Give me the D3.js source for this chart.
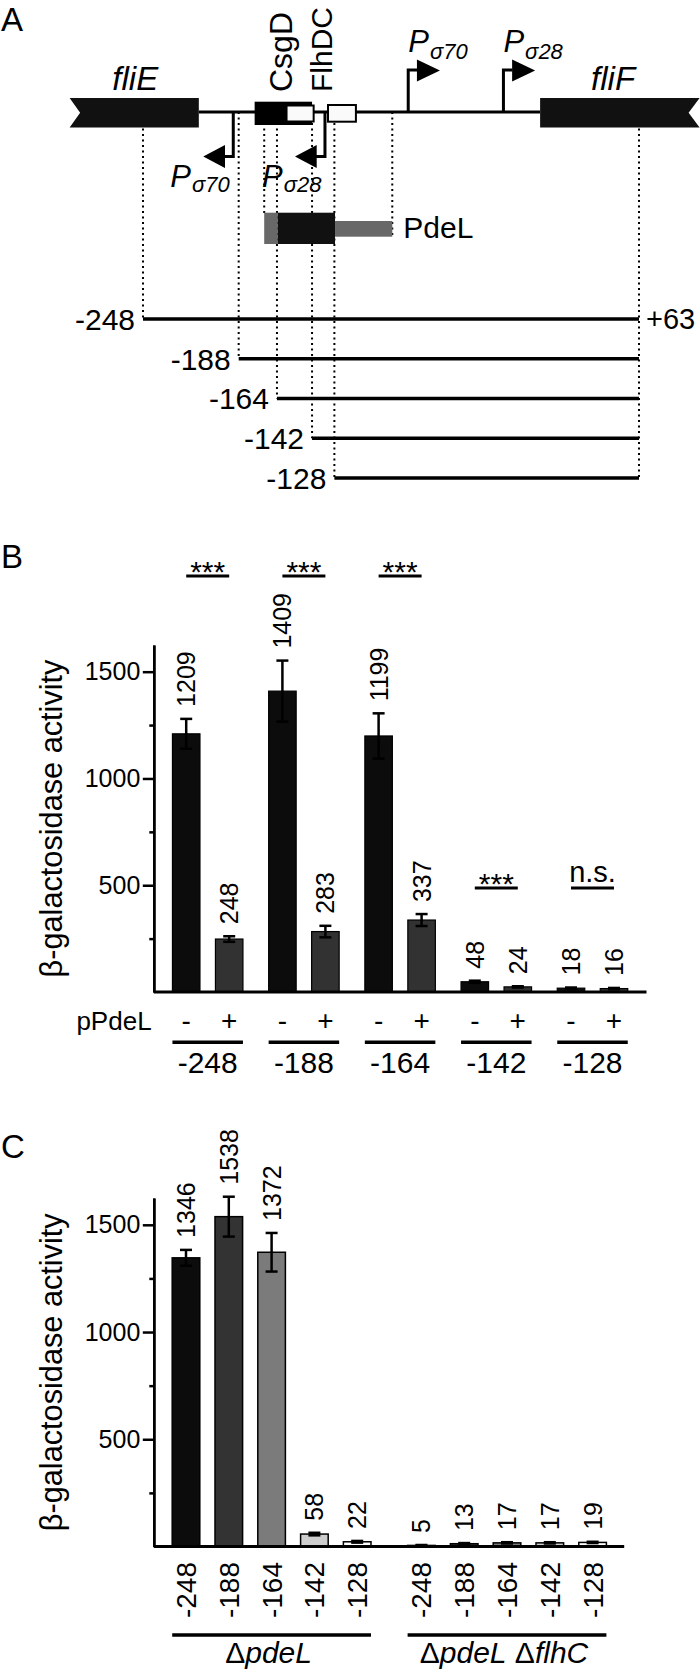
<!DOCTYPE html>
<html><head><meta charset="utf-8">
<script src="https://cdn.jsdelivr.net/npm/d3@7"></script>
<style>
body{margin:0;background:#fff;}
svg{display:block;font-family:"Liberation Sans", Arial, Helvetica, sans-serif;}
</style></head><body>
<svg id="fig" width="700" height="1675"></svg>
<script>
// ---------------- DATA ----------------
// Panel A: promoter map, positions in bp relative to the fliF start
const constructStarts = [-248, -188, -164, -142, -128];
const constructEnd = 63;
const geneFliE = [-294, -213];
const geneFliF = [1, 101];
const csgDSite = [-178, -142];
const csgDOverlap = [-158, -141];
const flhDCSite = [-132, -114.5];
const pdeLLeft = [-172, -163.5];
const pdeLCore = [-163.5, -127.6];
const pdeLRight = [-127.6, -91.7];
const promotersRev = [{pos: -191.4, sigma: "70"}, {pos: -133.9, sigma: "28"}];
const promotersFwd = [{pos: -81.7, sigma: "70"}, {pos: -22, sigma: "28"}];

// Panel B
const constructsB = ["-248", "-188", "-164", "-142", "-128"];
const treatments = ["-", "+"];
const valuesMinus = [1209, 1409, 1199, 48, 18];
const valuesPlus = [248, 283, 337, 24, 16];
const errMinus = [70, 143, 106, 5, 3];
const errPlus = [13, 27, 28, 3, 3];
const sigLabels = ["***", "***", "***", "***", "n.s."];
const sigHeights = [1948, 1948, 1948, 487, 487];

// Panel C
const genotypes = ["ΔpdeL", "ΔpdeL ΔflhC"];
const constructsC = ["-248", "-188", "-164", "-142", "-128"];
const valuesPdeL = [1346, 1538, 1372, 58, 22];
const valuesPdeLFlhC = [5, 13, 17, 17, 19];
const errPdeL = [37, 93, 90, 6, 4];
const errPdeLFlhC = [2, 3, 3, 3, 3];

const yTicksMajor = [500, 1000, 1500];
const yTicksMinor = [250, 750, 1250];
const yLabel = "β-galactosidase activity";

// ---------------- DRAW ----------------
const svg = d3.select("#fig");

function fitLength(sel, target) {
  const node = sel.node();
  const fs = parseFloat(sel.attr("font-size"));
  const len = node.getComputedTextLength();
  if (len > 0) sel.attr("font-size", (fs * target / len).toFixed(2));
}

function panelLetter(t, y) {
  svg.append("text").attr("x", 1).attr("y", y).attr("font-size", 33).text(t);
}
panelLetter("A", 31);
panelLetter("B", 568);
panelLetter("C", 1158);

// ---------- Panel A ----------
const gA = svg.append("g");
const bp = d3.scaleLinear().domain([constructStarts[0], constructEnd]).range([143, 639]);
const lineY = 112, boxTop = 98, boxBot = 127.5;
const rowY = d3.scalePoint().domain(constructStarts).range([319, 478]);
const lastRow = rowY(constructStarts[constructStarts.length - 1]);

const dotted = constructStarts.map(s => ({x: s, y2: rowY(s)}))
  .concat([{x: constructEnd, y2: lastRow}, {x: pdeLLeft[0], y2: 213}, {x: pdeLRight[1], y2: 236}]);
gA.selectAll("line.dot").data(dotted).join("line")
  .attr("x1", d => bp(d.x)).attr("x2", d => bp(d.x))
  .attr("y1", lineY).attr("y2", d => d.y2)
  .attr("stroke", "#000").attr("stroke-width", 2).attr("stroke-dasharray", "2,3.5");

// main line
gA.append("line").attr("x1", bp(geneFliE[1])).attr("x2", bp(geneFliF[0]))
  .attr("y1", lineY).attr("y2", lineY).attr("stroke", "#000").attr("stroke-width", 3);

// genes
const midY = (boxTop + boxBot) / 2;
gA.append("polygon").attr("fill", "#111").attr("points", [
  [bp(geneFliE[0]), boxTop], [bp(geneFliE[1]), boxTop], [bp(geneFliE[1]), boxBot],
  [bp(geneFliE[0]), boxBot], [bp(geneFliE[0]) + 10.5, midY]].join(" "));
gA.append("polygon").attr("fill", "#111").attr("points", [
  [bp(geneFliF[0]), boxTop], [bp(geneFliF[1]), boxTop], [bp(geneFliF[1]) - 11, midY],
  [bp(geneFliF[1]), boxBot], [bp(geneFliF[0]), boxBot]].join(" "));
gA.append("text").attr("x", (bp(geneFliE[0]) + bp(geneFliE[1])) / 2 + 1).attr("y", 90)
  .attr("text-anchor", "middle").attr("font-size", 33).attr("font-style", "italic").text("fliE");
gA.append("text").attr("x", bp(geneFliF[0]) + 73).attr("y", 90)
  .attr("text-anchor", "middle").attr("font-size", 33).attr("font-style", "italic").text("fliF");

// binding sites
gA.append("rect").attr("x", bp(csgDSite[0])).attr("width", bp(csgDSite[1]) - bp(csgDSite[0]))
  .attr("y", 101.7).attr("height", 23.3).attr("fill", "#000");
gA.append("rect").attr("x", bp(csgDOverlap[0])).attr("width", bp(csgDOverlap[1]) - bp(csgDOverlap[0]))
  .attr("y", 105.5).attr("height", 16).attr("fill", "#fafafa").attr("stroke", "#000").attr("stroke-width", 2);
gA.append("rect").attr("x", bp(flhDCSite[0])).attr("width", bp(flhDCSite[1]) - bp(flhDCSite[0]))
  .attr("y", 105).attr("height", 16.7).attr("fill", "#fafafa").attr("stroke", "#000").attr("stroke-width", 2);
gA.append("text").attr("transform", `translate(${bp(csgDSite[0]) + 37},92) rotate(-90)`)
  .attr("font-size", 32).text("CsgD");
gA.append("text").attr("transform", `translate(${bp(flhDCSite[0]) + 4},92) rotate(-90)`)
  .attr("font-size", 30).text("FlhDC");

// promoters
function pLabel(x, y, sigma, dy) {
  const t = gA.append("text").attr("x", x).attr("y", y).attr("font-style", "italic").attr("font-size", 31);
  t.append("tspan").text("P");
  t.append("tspan").attr("font-size", 22).attr("dy", dy).attr("dx", 1).text("σ" + sigma);
}
promotersFwd.forEach(p => {
  const x = bp(p.pos);
  gA.append("path").attr("d", `M${x},${lineY}V70H${x + 9}`).attr("fill", "none")
    .attr("stroke", "#000").attr("stroke-width", 3);
  gA.append("polygon").attr("points", [[x + 8.7, 59.5], [x + 8.7, 81.5], [x + 31.7, 70.5]].join(" "));
  pLabel(x, 51.7, p.sigma, 7.6);
});
promotersRev.forEach(p => {
  const x = bp(p.pos);
  gA.append("path").attr("d", `M${x},${lineY}V156.5H${x - 9}`).attr("fill", "none")
    .attr("stroke", "#000").attr("stroke-width", 3);
  gA.append("polygon").attr("points", [[x - 8.3, 145], [x - 8.3, 168], [x - 30, 156.5]].join(" "));
  pLabel(x - 63, 187, p.sigma, 4.7);
});

// PdeL
gA.append("rect").attr("x", bp(pdeLLeft[0])).attr("width", bp(pdeLLeft[1]) - bp(pdeLLeft[0]))
  .attr("y", 212.7).attr("height", 31.3).attr("fill", "#686868");
gA.append("rect").attr("x", bp(pdeLCore[0])).attr("width", bp(pdeLCore[1]) - bp(pdeLCore[0]))
  .attr("y", 212.7).attr("height", 31.3).attr("fill", "#111");
gA.append("rect").attr("x", bp(pdeLRight[0])).attr("width", bp(pdeLRight[1]) - bp(pdeLRight[0]))
  .attr("y", 221).attr("height", 15.7).attr("fill", "#686868");
gA.append("text").attr("x", bp(pdeLRight[1]) + 11).attr("y", 238).attr("font-size", 30).text("PdeL");

// constructs
gA.selectAll("line.con").data(constructStarts).join("line")
  .attr("x1", d => bp(d)).attr("x2", bp(constructEnd))
  .attr("y1", d => rowY(d)).attr("y2", d => rowY(d))
  .attr("stroke", "#000").attr("stroke-width", 3.5);
gA.selectAll("text.con").data(constructStarts).join("text")
  .attr("x", d => bp(d) - 8).attr("y", d => rowY(d)).attr("dy", "0.36em")
  .attr("text-anchor", "end").attr("font-size", 30).text(d => d);
gA.append("text").attr("x", bp(constructEnd) + 7).attr("y", rowY(constructStarts[0])).attr("dy", "0.36em")
  .attr("font-size", 29).text("+" + constructEnd);

// ---------- shared axis helper ----------
function yAxis(g, y, axisX) {
  const ax = g.append("g").attr("transform", `translate(${axisX},0)`);
  ax.call(d3.axisLeft(y).tickValues(yTicksMajor).tickFormat(d3.format("d"))
    .tickSize(11).tickSizeOuter(0).tickPadding(2.5));
  ax.append("g").call(d3.axisLeft(y).tickValues(yTicksMinor).tickSize(4.5).tickSizeOuter(0).tickFormat(""));
  ax.selectAll("path.domain").attr("stroke-width", 2.5);
  ax.selectAll(".tick line").attr("stroke-width", 2.5);
  ax.selectAll(".tick text").attr("font-size", 25).attr("fill", "#000")
    .attr("font-family", '"Liberation Sans", Arial, sans-serif');
  const r = y.range();
  const lab = g.append("text").attr("transform", `translate(62,${(r[0] + r[1]) / 2}) rotate(-90)`)
    .attr("text-anchor", "middle").attr("font-size", 30).text(yLabel);
  fitLength(lab, 318);
}

// ---------- Panel B ----------
const gB = svg.append("g");
const yB = d3.scaleLinear().domain([0, 1625]).range([992, 645]);
const x0B = d3.scaleBand().domain(constructsB).range([159.6, 640.6]);
const x1B = d3.scaleBand().domain(treatments).range([12.85, 83.35]).paddingInner(0.36);
const barsB = [];
constructsB.forEach((c, i) => {
  barsB.push({c, t: "-", v: valuesMinus[i], e: errMinus[i]});
  barsB.push({c, t: "+", v: valuesPlus[i], e: errPlus[i]});
});
const cxB = d => x0B(d.c) + x1B(d.t) + x1B.bandwidth() / 2;
const fillB = d3.scaleOrdinal().domain(treatments).range(["#0c0c0c", "#323232"]);

gB.selectAll("rect.bar").data(barsB).join("rect")
  .attr("x", d => x0B(d.c) + x1B(d.t)).attr("width", x1B.bandwidth())
  .attr("y", d => yB(d.v)).attr("height", d => yB(0) - yB(d.v))
  .attr("fill", d => fillB(d.t)).attr("stroke", "#000").attr("stroke-width", 1.2);
function errorBars(g, data, cx, y) {
  const eg = g.selectAll("g.err").data(data).join("g").attr("stroke", "#000").attr("stroke-width", 2.5);
  eg.append("line").attr("x1", cx).attr("x2", cx).attr("y1", d => y(d.v - d.e)).attr("y2", d => y(d.v + d.e));
  eg.append("line").attr("x1", d => cx(d) - 6).attr("x2", d => cx(d) + 6).attr("y1", d => y(d.v + d.e)).attr("y2", d => y(d.v + d.e));
  eg.append("line").attr("x1", d => cx(d) - 6).attr("x2", d => cx(d) + 6).attr("y1", d => y(d.v - d.e)).attr("y2", d => y(d.v - d.e));
  g.selectAll("text.val").data(data).join("text")
    .attr("transform", d => `translate(${cx(d) + 9},${y(d.v + d.e) - 12}) rotate(-90)`)
    .attr("font-size", 25).text(d => d.v);
}
errorBars(gB, barsB, cxB, yB);
yAxis(gB, yB, 153.8);
gB.append("line").attr("x1", 153.8).attr("x2", 646.5).attr("y1", yB(0)).attr("y2", yB(0))
  .attr("stroke", "#000").attr("stroke-width", 3);

// significance
constructsB.forEach((c, i) => {
  const a = x0B(c) + x1B("-") + x1B.bandwidth() / 2;
  const b = x0B(c) + x1B("+") + x1B.bandwidth() / 2;
  const ly = yB(sigHeights[i]);
  gB.append("line").attr("x1", a).attr("x2", b).attr("y1", ly).attr("y2", ly)
    .attr("stroke", "#000").attr("stroke-width", 3);
  gB.append("text").attr("x", (a + b) / 2).attr("y", sigLabels[i] === "n.s." ? ly - 6 : ly + 6)
    .attr("text-anchor", "middle").attr("font-size", sigLabels[i] === "n.s." ? 29 : 30).text(sigLabels[i]);
});

// treatment row
gB.append("text").attr("x", 151.6).attr("y", 1030).attr("text-anchor", "end").attr("font-size", 26).text("pPdeL");
gB.selectAll("text.trt").data(barsB).join("text")
  .attr("x", cxB).attr("y", 1030).attr("text-anchor", "middle").attr("font-size", 28).text(d => d.t);
constructsB.forEach(c => {
  gB.append("line").attr("x1", x0B(c) + x1B("-")).attr("x2", x0B(c) + x1B("+") + x1B.bandwidth())
    .attr("y1", 1042.3).attr("y2", 1042.3).attr("stroke", "#000").attr("stroke-width", 3.5);
  gB.append("text").attr("x", x0B(c) + x0B.bandwidth() / 2).attr("y", 1073)
    .attr("text-anchor", "middle").attr("font-size", 30).text(c);
});

// ---------- Panel C ----------
const gC = svg.append("g");
const yC = d3.scaleLinear().domain([0, 1625]).range([1546.5, 1198]);
const xgC = d3.scaleBand().domain(genotypes).range([164.6, 614]).paddingInner(0.091);
const xcC = d3.scaleBand().domain(constructsC).range([0, xgC.bandwidth()]).paddingInner(0.355).paddingOuter(0.1775);
const colorC = d3.scaleOrdinal().domain(constructsC).range(["#0c0c0c", "#333333", "#7b7b7b", "#cdcdcd", "#ffffff"]);
const barsC = [];
constructsC.forEach((c, i) => barsC.push({g: genotypes[0], c, v: valuesPdeL[i], e: errPdeL[i]}));
constructsC.forEach((c, i) => barsC.push({g: genotypes[1], c, v: valuesPdeLFlhC[i], e: errPdeLFlhC[i]}));
const cxC = d => xgC(d.g) + xcC(d.c) + xcC.bandwidth() / 2;

gC.selectAll("rect.bar").data(barsC).join("rect")
  .attr("x", d => xgC(d.g) + xcC(d.c)).attr("width", xcC.bandwidth())
  .attr("y", d => yC(d.v)).attr("height", d => yC(0) - yC(d.v))
  .attr("fill", d => colorC(d.c)).attr("stroke", "#000").attr("stroke-width", 1.5);
errorBars(gC, barsC, cxC, yC);
yAxis(gC, yC, 153.8);
gC.append("line").attr("x1", 153.8).attr("x2", 624.2).attr("y1", yC(0)).attr("y2", yC(0))
  .attr("stroke", "#000").attr("stroke-width", 3);

gC.selectAll("text.xl").data(barsC).join("text")
  .attr("transform", d => `translate(${cxC(d) + 10},1562) rotate(-90)`)
  .attr("text-anchor", "end").attr("font-size", 28).text(d => d.c);

genotypes.forEach(gn => {
  gC.append("line").attr("x1", xgC(gn) + xcC(constructsC[0])).attr("x2", xgC(gn) + xcC(constructsC[4]) + xcC.bandwidth())
    .attr("y1", 1635).attr("y2", 1635).attr("stroke", "#000").attr("stroke-width", 3.5);
  const t = gC.append("text").attr("x", xgC(gn) + xgC.bandwidth() / 2 - 3).attr("y", 1663)
    .attr("text-anchor", "middle").attr("font-size", 30);
  gn.split(" ").forEach((part, k) => {
    t.append("tspan").text((k > 0 ? " " : "") + "Δ");
    t.append("tspan").attr("font-style", "italic").text(part.slice(1));
  });
});
</script>
</body></html>
